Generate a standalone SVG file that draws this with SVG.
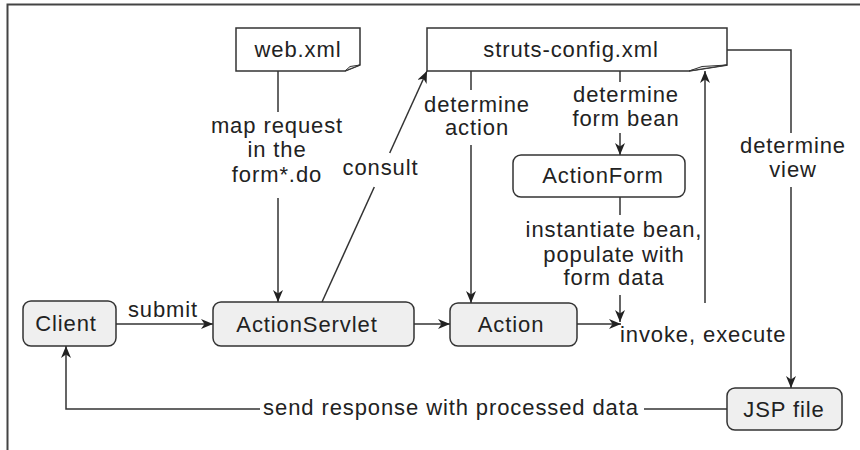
<svg xmlns="http://www.w3.org/2000/svg" width="860" height="450" viewBox="0 0 860 450">
<style>
  text { font-family: "Liberation Sans", Arial, sans-serif; font-size: 22px; letter-spacing: 0.9px; fill: #222; text-anchor: middle; }
  .box { fill: #efefef; stroke: #333; stroke-width: 1.5; }
  .doc { fill: #fff; stroke: #333; stroke-width: 1.5; }
  .curl { fill: #e8e8e8; stroke: #333; stroke-width: 1; }
  .ln { fill: none; stroke: #333; stroke-width: 1.5; }
  .frame { fill: none; stroke: #444; stroke-width: 2; }
</style>
<defs>
  <marker id="arr" viewBox="0 0 12 10" markerWidth="12" markerHeight="10" refX="12" refY="5" orient="auto" markerUnits="userSpaceOnUse">
    <path d="M0,0 L12,5 L0,10 L3.5,5 Z" fill="#222"/>
  </marker>
</defs>
<rect width="860" height="450" fill="#fff"/>
<path class="frame" d="M7.5,450 V4.5 H860"/>

<g id="connectors">
  <path class="ln" d="M278,71 V112"/>
  <path class="ln" d="M278,198 V302" marker-end="url(#arr)"/>
  <path class="ln" d="M322,302 L374.3,187"/>
  <path class="ln" d="M389.7,153 L427,71" marker-end="url(#arr)"/>
  <path class="ln" d="M116,324 H213" marker-end="url(#arr)"/>
  <path class="ln" d="M414,324 H450" marker-end="url(#arr)"/>
  <path class="ln" d="M577,324 H621" marker-end="url(#arr)"/>
  <path class="ln" d="M471,71 V90"/>
  <path class="ln" d="M471,145 V303" marker-end="url(#arr)"/>
  <path class="ln" d="M620,71 V82"/>
  <path class="ln" d="M620,133 V155" marker-end="url(#arr)"/>
  <path class="ln" d="M620,197 V215"/>
  <path class="ln" d="M620,295 V322" marker-end="url(#arr)"/>
  <path class="ln" d="M705,303 V71" marker-end="url(#arr)"/>
  <path class="ln" d="M727,50 H791 V133"/>
  <path class="ln" d="M791,187 V388" marker-end="url(#arr)"/>
  <path class="ln" d="M727,409 H644"/>
  <path class="ln" d="M260,409 H66 V346" marker-end="url(#arr)"/>
  <text x="277" y="133">map request</text>
  <text x="277" y="157">in the</text>
  <text x="277" y="181.5">form*.do</text>
  <text x="380.5" y="175">consult</text>
  <text x="163" y="317">submit</text>
  <text x="477" y="112">determine</text>
  <text x="477" y="135">action</text>
  <text x="626" y="102">determine</text>
  <text x="626" y="126">form bean</text>
  <text x="793" y="153">determine</text>
  <text x="793" y="177">view</text>
  <text x="614" y="237">instantiate bean,</text>
  <text x="614" y="262">populate with</text>
  <text x="614" y="285">form data</text>
  <text x="620" y="342" style="text-anchor:start">invoke, execute</text>
  <text x="451" y="415">send response with processed data</text>
</g>

<g id="web-xml">
  <path class="doc" d="M236,28 H360 V65 L345,71 H236 Z"/>
  <path class="curl" d="M345,71 L350,66.5 L360,65 Z"/>
  <text x="298" y="57">web.xml</text>
</g>
<g id="struts-config">
  <path class="doc" d="M427,28 H727 V65 L689,71 H427 Z"/>
  <path class="curl" d="M689,71 L702,66.5 L727,65 Z"/>
  <text x="571" y="57">struts-config.xml</text>
</g>
<g id="actionform">
  <rect x="513" y="155" width="172" height="42" rx="8" fill="#fff" stroke="#333" stroke-width="1.5"/>
  <text x="603" y="183">ActionForm</text>
</g>
<g id="client">
  <rect class="box" x="23" y="301" width="93" height="45" rx="8"/>
  <text x="66" y="331">Client</text>
</g>
<g id="actionservlet">
  <rect class="box" x="213" y="302" width="201" height="44" rx="8"/>
  <text x="307" y="332">ActionServlet</text>
</g>
<g id="action">
  <rect class="box" x="450" y="303" width="127" height="43" rx="8"/>
  <text x="511" y="332">Action</text>
</g>
<g id="jsp-file">
  <rect class="box" x="727" y="388" width="115" height="42" rx="8"/>
  <text x="784" y="417">JSP file</text>
</g>
</svg>
